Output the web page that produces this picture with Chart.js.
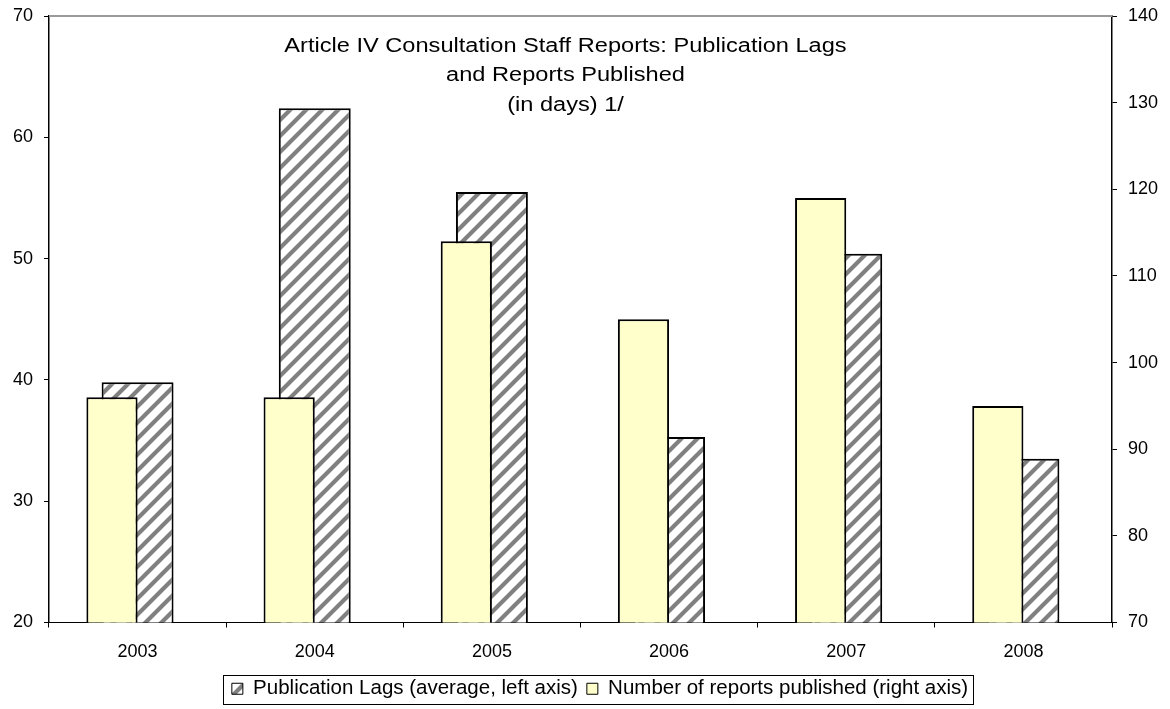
<!DOCTYPE html>
<html>
<head>
<meta charset="utf-8">
<title>Article IV Consultation Staff Reports</title>
<script src="https://cdn.jsdelivr.net/npm/chart.js@4/dist/chart.umd.min.js"></script>
<style>
  html, body { margin: 0; padding: 0; background: #ffffff; }
  #wrap { width: 1170px; height: 709px; position: relative; }
</style>
</head>
<body>
<div id="wrap"><canvas id="chart" width="1170" height="709"></canvas></div>
<script>
// Fiscal years shown on the horizontal axis
const years = ['2003', '2004', '2005', '2006', '2007', '2008'];
// Average publication lag in days (left axis)
const publicationLags = [39.8, 62.4, 55.5, 35.3, 50.4, 33.5];
// Number of staff reports published (right axis)
const reportsPublished = [96, 96, 114, 105, 119, 95];
// Axis tick ranges
const leftTicks = { min: 20, max: 70, step: 10 };
const rightTicks = { min: 70, max: 140, step: 10 };
// Title lines
const titleLines = [
  'Article IV Consultation Staff Reports: Publication Lags',
  'and Reports Published',
  '(in days) 1/'
];

const FONT = '"Liberation Sans", Arial, Helvetica, sans-serif';

// Diagonal grey-on-white hatching used for the lag bars
function makeHatch() {
  const size = 16;
  const c = document.createElement('canvas');
  c.width = size; c.height = size;
  const g = c.getContext('2d');
  g.fillStyle = '#ffffff';
  g.fillRect(0, 0, size, size);
  g.strokeStyle = '#808080';
  g.lineWidth = 4.2;
  g.beginPath();
  g.moveTo(-4, size + 4); g.lineTo(size + 4, -4);
  g.moveTo(-4, 4); g.lineTo(4, -4);
  g.moveTo(size - 4, size + 4); g.lineTo(size + 4, size - 4);
  g.stroke();
  return g.createPattern(c, 'repeat');
}
const hatch = makeHatch();

// Plot frame: grey top edge, centered multi-line title, and a box round the legend
const framePlugin = {
  id: 'frame',
  afterLayout(chart) {
    // nudge the legend row a little to the right of the canvas centre
    const lg = chart.legend;
    if (!lg) return;
    const dx = 15;
    lg.left += dx; lg.right += dx;
    (lg.legendHitBoxes || []).forEach(h => { h.left += dx; });
  },
  beforeDatasetsDraw(chart) {
    const { ctx, chartArea: a } = chart;
    ctx.save();
    ctx.strokeStyle = '#9a9a9a';
    ctx.lineWidth = 2;
    ctx.beginPath();
    ctx.moveTo(a.left, a.top);
    ctx.lineTo(a.right, a.top);
    ctx.stroke();
    ctx.restore();
  },
  afterDraw(chart) {
    const { ctx, chartArea: a } = chart;
    ctx.save();
    ctx.fillStyle = '#000000';
    ctx.font = '20px ' + FONT;
    ctx.textAlign = 'center';
    ctx.textBaseline = 'middle';
    const cx = (a.left + a.right) / 2 - 15;
    const stretch = 1.18;
    titleLines.forEach((t, i) => {
      ctx.save();
      ctx.translate(cx, a.top + 30 + i * 29.5);
      ctx.scale(stretch, 1);
      ctx.fillText(t, 0, 0);
      ctx.restore();
    });

    const boxes = chart.legend && chart.legend.legendHitBoxes;
    if (boxes && boxes.length) {
      let l = Infinity, r = -Infinity, t = Infinity, b = -Infinity;
      boxes.forEach(h => {
        l = Math.min(l, h.left); r = Math.max(r, h.left + h.width);
        t = Math.min(t, h.top); b = Math.max(b, h.top + h.height);
      });
      ctx.strokeStyle = '#000000';
      ctx.lineWidth = 1;
      ctx.strokeRect(Math.round(l - 9) + 0.5, Math.round(t - 4) + 0.5,
                     Math.round(r - l + 14), Math.round(b - t + 8));
    }
    ctx.restore();
  }
};

// value axes keep a fixed width and do not reserve room above the plot
function fixValueAxis(width) {
  return (s) => { s.width = width; s.paddingTop = 0; s.paddingBottom = 0; };
}

const chart = new Chart(document.getElementById('chart'), {
  type: 'bar',
  data: {
    labels: years,
    datasets: [
      {
        label: 'Publication Lags (average, left axis)',
        data: publicationLags,
        yAxisID: 'y',
        backgroundColor: hatch,
        borderColor: '#000000',
        borderWidth: 2,
        grouped: false,
        categoryPercentage: 0.406,
        barPercentage: 1.0,
        order: 1
      },
      {
        label: 'Number of reports published (right axis)',
        data: reportsPublished,
        yAxisID: 'y2',
        backgroundColor: '#ffffcc',
        borderColor: '#000000',
        borderWidth: 2,
        grouped: true,
        categoryPercentage: 0.578,
        barPercentage: 1.0,
        order: 0
      },
      {
        // empty slot that keeps the report bars left of centre
        label: 'spacer',
        data: years.map(() => null),
        yAxisID: 'y2',
        grouped: true,
        categoryPercentage: 0.578,
        barPercentage: 1.0,
        order: 2
      }
    ]
  },
  options: {
    responsive: false,
    animation: false,
    layout: { padding: { top: 16, left: 0, right: 0, bottom: 0 } },
    plugins: {
      title: { display: false },
      tooltip: { enabled: false },
      legend: {
        position: 'bottom',
        labels: {
          color: '#000000',
          font: { family: FONT, size: 20.5 },
          boxWidth: 11,
          boxHeight: 11,
          padding: 9,
          sort: (a, b) => a.datasetIndex - b.datasetIndex,
          filter: (item) => item.datasetIndex < 2,
          generateLabels(ch) {
            const items = Chart.defaults.plugins.legend.labels.generateLabels(ch);
            items.forEach(it => { it.lineWidth = 1; });
            return items;
          }
        }
      }
    },
    scales: {
      x: {
        type: 'category',
        position: 'bottom',
        offset: true,
        grid: { offset: true, drawOnChartArea: false, drawTicks: true, tickLength: 5, color: '#000000' },
        border: { display: true, color: '#000000', width: 1 },
        ticks: { color: '#000000', font: { family: FONT, size: 18 }, padding: 14, maxRotation: 0 },
        afterFit(s) { s.height = 47; }
      },
      y: {
        position: 'left',
        min: leftTicks.min,
        max: leftTicks.max,
        ticks: { stepSize: leftTicks.step, color: '#000000', font: { family: FONT, size: 18 }, padding: 11 },
        grid: { drawOnChartArea: false, drawTicks: true, tickLength: 5, color: '#000000' },
        border: { display: true, color: '#000000', width: 1.5 },
        afterFit: fixValueAxis(49)
      },
      y2: {
        position: 'right',
        min: rightTicks.min,
        max: rightTicks.max,
        ticks: { stepSize: rightTicks.step, color: '#000000', font: { family: FONT, size: 18 }, padding: 11 },
        grid: { drawOnChartArea: false, drawTicks: true, tickLength: 5, color: '#000000' },
        border: { display: true, color: '#000000', width: 1.5 },
        afterFit: fixValueAxis(58)
      }
    }
  },
  plugins: [framePlugin]
});
</script>
</body>
</html>
